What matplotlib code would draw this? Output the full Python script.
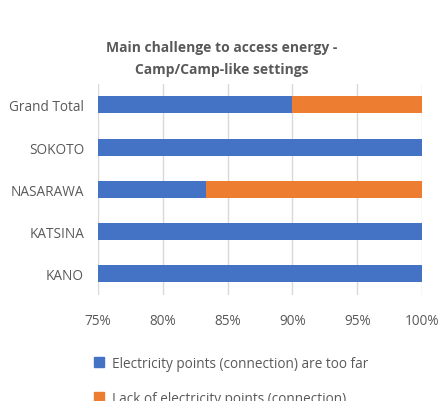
import matplotlib.pyplot as plt
from matplotlib.ticker import PercentFormatter
from matplotlib.patches import Patch

# data
states = ["KANO", "KATSINA", "NASARAWA", "SOKOTO", "Grand Total"]
too_far = [1.0, 1.0, 0.8333, 1.0, 0.90]
lack_points = [0.0, 0.0, 0.1667, 0.0, 0.10]
series_names = ["Electricity points (connection) are too far",
                "Lack of electricity points (connection)"]
blue = "#4472C4"
orange = "#ED7D31"
grey = "#595959"

plt.rcParams['font.family'] = ['Open Sans', 'DejaVu Sans']

fig = plt.figure(figsize=(4.43, 4.02), dpi=100)
ax = fig.add_axes([0.221, 0.264, 0.732, 0.525])

ypos = range(len(states))
ax.barh(ypos, too_far, height=0.4, color=blue, zorder=3)
ax.barh(ypos, lack_points, left=too_far, height=0.4, color=orange, zorder=3)

ax.set_xlim(0.75, 1.0)
ax.set_ylim(-0.5, len(states) - 0.5)
ax.set_xticks([0.75, 0.80, 0.85, 0.90, 0.95, 1.0])
ax.xaxis.set_major_formatter(PercentFormatter(1.0, decimals=0))
ax.set_yticks(list(ypos))
ax.set_yticklabels(states)
ax.tick_params(length=0, colors=grey, labelsize=9.8)
ax.tick_params(axis='x', pad=13)
ax.tick_params(axis='y', pad=10)
ax.grid(axis='x', color="#d9d9d9", linewidth=1, zorder=0)
for s in ax.spines.values():
    s.set_visible(False)

fig.text(0.5, 0.853, "Main challenge to access energy -\nCamp/Camp-like settings",
         ha='center', va='center', fontsize=10, fontweight='bold',
         color=grey, linespacing=1.75)

handles = [Patch(color=blue), Patch(color=orange)]
fig.legend(handles, series_names, loc='upper left', bbox_to_anchor=(0.185, 0.143),
           frameon=False, fontsize=9.8, labelcolor=grey, handlelength=0.7,
           handleheight=0.7, labelspacing=1.45, handletextpad=0.6)

fig.savefig("out.png", dpi=100)
